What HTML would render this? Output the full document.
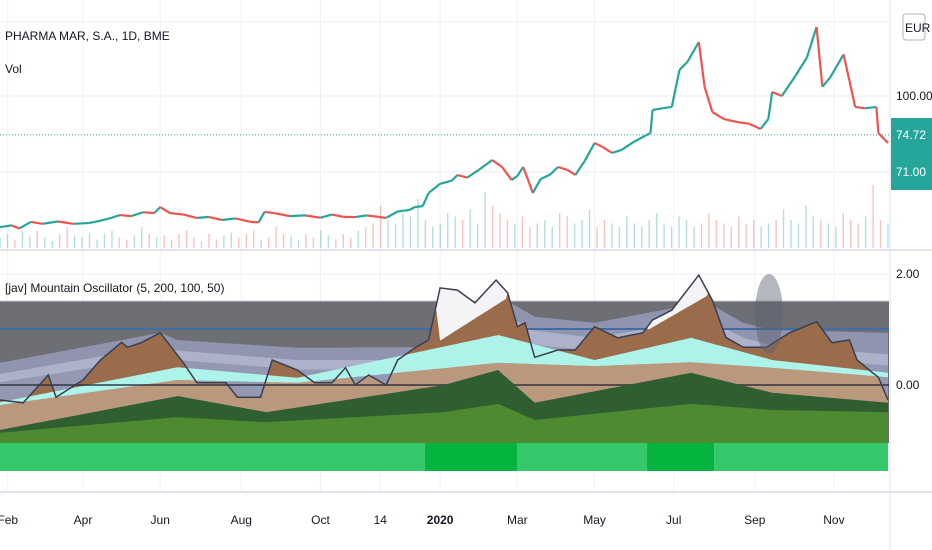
<!DOCTYPE html>
<html><head><meta charset="utf-8">
<style>
html,body{margin:0;padding:0;background:#fff;}
body{width:932px;height:550px;overflow:hidden;font-family:"Liberation Sans",sans-serif;position:relative;}
svg{position:absolute;left:0;top:0;}
.t{font-family:"Liberation Sans",sans-serif;font-size:12px;fill:#131722;}
</style></head>
<body>
<svg id="c" width="932" height="550"></svg>
<script>
// ---------- DATA ----------
const priceT=[0,6,10,16,22,30,38,46,52,58,62,68,74,80,83,88,95,102,108,115,122,130,134,137,142,150,158,166,172,178,184,190,196,200,206,212,215,219,222,228,234,237,242,248,255,260,265,268,271,274,276,280,285,289,294,298,303,308,312,317,322,328,335,337,338,343,348,350,352,356,362,365,369,375,382,388,394,398,400,405,412,418,423,426,430,437,440,443,448,454,455,460];
const priceV=[14.9,16,14,18.2,17,18.5,17,17.5,19,21,22.7,22,24.5,24,27.9,24,23,20.8,21.5,19.5,20.5,18.2,18,24.7,24,22,22.5,21,23,21.5,21.4,22.5,21.5,20.8,25,26,27.9,28.5,37,43,45,48.7,47,52,58.4,54,45.5,48,53.9,44,37,46,49,53.9,52,48.7,58,69.5,67,63,65,70,74.7,76,90.9,92,92.9,105,117,122,135,106,89.6,85,83.1,82,78.6,85,102.6,100,113,125,144.8,106,112,127,110,92.9,92,92.9,76,69.5];
const volV=[0.15,0.2,0.12,0.25,0.18,0.25,0.15,0.1,0.2,0.3,0.18,0.15,0.22,0.12,0.2,0.25,0.15,0.12,0.18,0.3,0.2,0.15,0.18,0.12,0.2,0.25,0.15,0.1,0.2,0.12,0.18,0.22,0.15,0.2,0.25,0.12,0.15,0.3,0.2,0.18,0.12,0.2,0.15,0.25,0.18,0.12,0.2,0.15,0.25,0.3,0.35,0.6,0.4,0.35,0.5,0.45,0.7,0.4,0.3,0.35,0.5,0.45,0.4,0.55,0.35,0.8,0.6,0.5,0.4,0.35,0.45,0.3,0.35,0.4,0.3,0.5,0.45,0.35,0.4,0.55,0.3,0.4,0.35,0.3,0.45,0.35,0.3,0.4,0.5,0.35,0.3,0.45,0.4,0.3,0.35,0.5,0.4,0.35,0.3,0.45,0.35,0.4,0.3,0.35,0.4,0.55,0.4,0.35,0.6,0.45,0.4,0.35,0.3,0.5,0.4,0.35,0.45,0.9,0.4,0.35];
const oscT=[0,12,25,29,43,52,63,66,73,83,95,102,117,123,135,141,154,163,172,179,184,191,200,206,215,222,228,237,246,257,263,268,272,277,289,298,308,320,333,338,348,362,369,376,385,397,409,423,431,440,444,452,455,460];
const oscV=[-0.27,-0.32,0.18,-0.22,0.09,0.45,0.77,0.68,0.76,0.94,0.40,0.04,0.04,-0.22,-0.22,0.45,0.27,0.04,0.04,0.31,0,0.18,0,0.45,0.67,0.81,1.75,1.71,1.48,1.89,1.66,1.05,1.12,0.50,0.63,0.63,1.05,0.85,0.94,1.17,1.35,1.98,1.53,0.86,0.68,0.68,0.94,1.14,0.76,0.81,0.45,0.22,0.14,-0.27];
const capT=[0,220,228,262,270,336,366,372,460];
const capV=[3,3,0.8,1.55,3,1.0,1.6,3,3];
const lavT=[0,83,92,154,215,262,277,308,366,385,400,460];
const lav1V=[0.40,0.94,0.81,0.67,0.68,1.53,1.23,1.12,1.50,1.12,0.99,0.94];
const lav2V=[0.2,0.7,0.62,0.45,0.45,1.25,0.98,0.85,1.2,0.85,0.72,0.55];
const lav3V=[0.05,0.5,0.45,0.28,0.28,0.95,0.72,0.62,0.9,0.62,0.52,0.35];
const cyT=[0,92,154,258,308,358,400,460];
const cyTopV=[-0.31,0.32,0.13,0.90,0.45,0.85,0.45,0.22];
const cyBotV=[-0.36,0.09,0.04,0.40,0.34,0.41,0.31,0.14];
const gT=[0,92,138,230,258,277,358,400,460];
const darkGV=[-0.81,-0.2,-0.49,0,0.27,-0.32,0.22,-0.14,-0.32];
const oliveV=[-0.86,-0.58,-0.67,-0.49,-0.34,-0.63,-0.34,-0.45,-0.49];
const bandT=[0,220,268,335,370,460];
const bandLvl=[0,1,0,1,0];
const dateLabels=["Feb","Apr","Jun","Aug","Oct","14","2020","Mar","May","Jul","Sep","Nov"];
const dateT=[4,43,83,125,166,197,228,268,308,349,391,432];
const oscTicks=[2,0];
const oscTickLabels=["2.00","0.00"];

// ---------- SCALES ----------
const X=t=>t*888/460;
const PY=p=>250-p*1.54;
const OY=v=>385-v*55.5;
const NS="http://www.w3.org/2000/svg";
const svg=document.getElementById('c');
function el(tag,attrs,parent){const e=document.createElementNS(NS,tag);for(const k in attrs)e.setAttribute(k,attrs[k]);(parent||svg).appendChild(e);return e;}
function interp(T,V,t){if(t<=T[0])return V[0];for(let i=1;i<T.length;i++){if(t<=T[i]){const f=(t-T[i-1])/(T[i]-T[i-1]);return V[i-1]+f*(V[i]-V[i-1]);}}return V[V.length-1];}
const steps=[];for(let t=0;t<=460;t+=1)steps.push(t);
function areaPath(fTop,fBot){let d='';steps.forEach((t,i)=>{d+=(i?'L':'M')+X(t).toFixed(1)+','+fTop(t).toFixed(1);});for(let i=steps.length-1;i>=0;i--){d+='L'+X(steps[i]).toFixed(1)+','+fBot(steps[i]).toFixed(1);}return d+'Z';}

// grid
dateT.forEach(t=>{const g=el('line',{x1:X(t),x2:X(t),y1:0,y2:492,stroke:'#f0f1f4','stroke-width':1});
});
[22,96,172].forEach(y=>{const g=el('line',{x1:0,x2:890,y1:y,y2:y,stroke:'#eceef2','stroke-width':1});
});
const og=el('line',{x1:0,x2:890,y1:274,y2:274,stroke:'#eceef2'});


// volume
const vg=el('g',{});
volV.forEach((v,i)=>{const t=i*460/(volV.length-1);const up=interp(priceT,priceV,t+2)>=interp(priceT,priceV,t);
const b=el('rect',{x:X(t)-0.7,y:248-v*70,width:1.4,height:v*70,fill:up?'rgba(38,166,154,0.35)':'rgba(239,83,80,0.35)'},vg);
});

// price
const pg=el('g',{});
for(let i=1;i<priceT.length;i++){const up=priceV[i]>=priceV[i-1];
const s=el('line',{x1:X(priceT[i-1]),y1:PY(priceV[i-1]),x2:X(priceT[i]),y2:PY(priceV[i]),stroke:up?'#26a69a':'#ef5350','stroke-width':2.2},pg);
}
const last=el('line',{x1:0,x2:890,y1:PY(74.72),y2:PY(74.72),stroke:'#26a69a','stroke-dasharray':'1,2'});


// oscillator pane
const bg=el('rect',{x:0,y:301,width:889,height:142,fill:'#6d6f75'});

el('line',{x1:0,x2:889,y1:301,y2:301,stroke:'#c9cbd0'});
const base=()=>443;
[[lav1V,'#9094ae','lavender-area-1'],[lav2V,'#adb1c9','lavender-area-2'],[lav3V,'#9498b2','lavender-area-3']].forEach(([V,c,n])=>{
const a=el('path',{d:areaPath(t=>OY(interp(lavT,V,t)),base),fill:c});
});
const bl=el('line',{x1:0,x2:889,y1:329,y2:329,stroke:'#3f6ea6','stroke-width':2});

const wa=el('path',{d:areaPath(t=>OY(interp(oscT,oscV,t)),base),fill:'#f4f4f6'});

const ba=el('path',{d:areaPath(t=>OY(Math.min(interp(oscT,oscV,t),interp(capT,capV,t))),base),fill:'#9b6c4b'});

const ta=el('path',{d:areaPath(t=>Math.max(OY(Math.min(interp(oscT,oscV,t),interp(capT,capV,t))),OY(interp(cyT,cyBotV,t))),base),fill:'#b9987e'});

const ca=el('path',{d:areaPath(t=>OY(interp(cyT,cyTopV,t)),t=>OY(interp(cyT,cyBotV,t))),fill:'#aef3ea'});

const zl=el('line',{x1:0,x2:889,y1:OY(0),y2:OY(0),stroke:'rgba(40,45,60,0.7)','stroke-width':2});

const dg=el('path',{d:areaPath(t=>OY(interp(gT,darkGV,t)),base),fill:'#2f5f30'});

const ol=el('path',{d:areaPath(t=>OY(interp(gT,oliveV,t)),base),fill:'#4e8a30'});

let od='';oscT.forEach((t,i)=>{od+=(i?'L':'M')+X(t).toFixed(1)+','+OY(oscV[i]).toFixed(1);});
const oline=el('path',{d:od,fill:'none',stroke:'#3a3f4e','stroke-width':1.5});

for(let i=0;i<bandLvl.length;i++){const r=el('rect',{x:X(bandT[i]),y:443,width:X(bandT[i+1])-X(bandT[i]),height:28,fill:bandLvl[i]?'#05b43f':'#35c86a'});
}
const ell=el('ellipse',{cx:769,cy:314,rx:14,ry:40,fill:'rgba(90,95,110,0.45)'});


// separators & axis
el('line',{x1:0,x2:932,y1:250,y2:250,stroke:'#e0e3eb','stroke-width':2});
el('line',{x1:0,x2:932,y1:492,y2:492,stroke:'#e0e3eb','stroke-width':2});
el('line',{x1:890,x2:890,y1:0,y2:550,stroke:'#e0e3eb'});
oscTicks.forEach((v,i)=>{const tx=el('text',{x:896,y:OY(v)+4,class:'t'});tx.textContent=oscTickLabels[i];
});
dateT.forEach((t,i)=>{const tx=el('text',{x:X(t),y:524,class:'t','text-anchor':'middle'});tx.textContent=dateLabels[i];
if(dateLabels[i]==='2020')tx.setAttribute('font-weight','bold');
});
const p100=el('text',{x:896,y:100,class:'t'});p100.textContent='100.00';

const pb=el('rect',{x:891,y:118,width:41,height:72,fill:'#26a69a'});

const l1=el('text',{x:896,y:139,class:'t',style:'fill:#fff'});l1.textContent='74.72';

const l2=el('text',{x:896,y:176,class:'t',style:'fill:#fff'});l2.textContent='71.00';

const eb=el('rect',{x:903,y:14,width:22,height:26,rx:3,fill:'#fff',stroke:'#b2b5be'});

const et=el('text',{x:905,y:32,class:'t','font-size':'11'});et.textContent='EUR';


// titles
const t1=el('text',{x:5,y:40,class:'t','font-size':'13'});t1.textContent='PHARMA MAR, S.A., 1D, BME';

const t2=el('text',{x:5,y:73,class:'t','font-size':'13'});t2.textContent='Vol';

const t3=el('text',{x:5,y:292,class:'t','font-size':'13'});t3.textContent='[jav] Mountain Oscillator (5, 200, 100, 50)';

</script>
</body></html>
